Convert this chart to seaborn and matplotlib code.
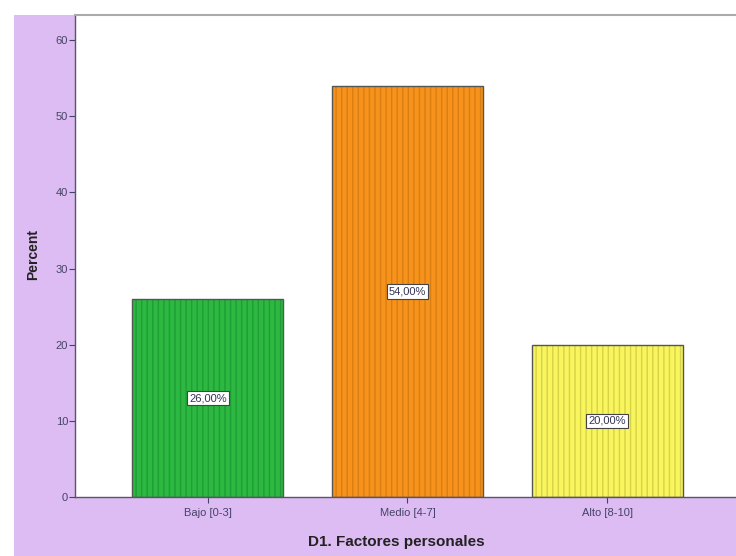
import matplotlib
matplotlib.use("Agg")
import matplotlib.pyplot as plt
import seaborn as sns
import pandas as pd
from matplotlib.patches import Rectangle

categories = ["Bajo [0-3]", "Medio [4-7]", "Alto [8-10]"]
percent = [26.0, 54.0, 20.0]
labels = ["26,00%", "54,00%", "20,00%"]
yticks = [0, 10, 20, 30, 40, 50, 60]

fill_colors = ["#2DB842", "#F7931C", "#F8F55E"]
hatch_colors = ["#1E9E34", "#D97E12", "#D6D347"]
purple = "#DDBBF3"

sns.set_style("white")
plt.rcParams["font.family"] = ["Liberation Sans", "DejaVu Sans"]

df = pd.DataFrame({"cat": categories, "pct": percent})

W, H = 736, 556
fig = plt.figure(figsize=(W / 100, H / 100), dpi=100)
fig.patch.set_facecolor("white")
fig.patches.append(Rectangle((14 / W, 0), 1 - 14 / W, 1 - 15 / H,
                             transform=fig.transFigure, facecolor=purple,
                             edgecolor="none", zorder=-10))

ax = fig.add_axes([75 / W, 1 - 497 / H, 1 - 75 / W, (497 - 15) / H])
ax.set_facecolor("white")

sns.barplot(data=df, x="cat", y="pct", hue="cat", palette=fill_colors,
            legend=False, width=0.755, ax=ax, saturation=1)

for p, hc in zip(ax.patches, hatch_colors):
    p.set_hatch("|||")
    p.set_edgecolor(hc)
    p.set_linewidth(0)
    ax.add_patch(Rectangle((p.get_x(), p.get_y()), p.get_width(), p.get_height(),
                           fill=False, edgecolor="#555555", linewidth=1.0, zorder=3))

for i, (v, lab) in enumerate(zip(percent, labels)):
    ax.text(i, v / 2, lab, ha="center", va="center", fontsize=8, color="#333355",
            bbox=dict(boxstyle="square,pad=0.2", facecolor="white",
                      edgecolor="#444444", linewidth=0.8), zorder=5)

ax.set_xlim(-0.665, 2.645)
ax.set_ylim(0, 63.3)
ax.set_yticks(yticks)
ax.set_yticklabels([str(t) for t in yticks])
ax.tick_params(axis="both", labelsize=8, colors="#444466", length=4, width=0.8,
               direction="out", left=True, bottom=True)
ax.tick_params(axis="y", pad=1)
ax.tick_params(axis="x", pad=4)

for s in ["left", "bottom"]:
    ax.spines[s].set_color("#555566")
    ax.spines[s].set_linewidth(1.0)
ax.spines["top"].set_color("#aaaaaa")
ax.spines["top"].set_linewidth(1.5)
ax.spines["right"].set_visible(False)

ax.set_xlabel("D1. Factores personales", fontsize=11, fontweight="bold",
              color="#222222")
ax.set_ylabel("Percent", fontsize=10, fontweight="bold", color="#222222")
ax.xaxis.set_label_coords((396 - 75) / 661, -(535 - 497) / 482)
ax.yaxis.set_label_coords((40 - 75) / 661, (497 - 255) / 482)

fig.savefig("out.png", dpi=100, facecolor=fig.get_facecolor())
